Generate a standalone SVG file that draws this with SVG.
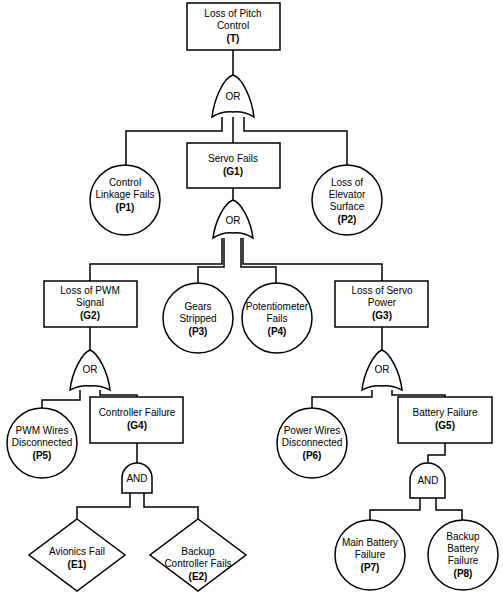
<svg xmlns="http://www.w3.org/2000/svg" width="503" height="594" viewBox="0 0 503 594">
<style>
.s{fill:#fff;stroke:#000;stroke-width:1.5}
.c{fill:none;stroke:#000;stroke-width:1.5}
text{font-family:"Liberation Sans",Arial,sans-serif;font-size:10px;text-anchor:middle;fill:#000}
.b{font-weight:bold}
</style>
<rect width="503" height="594" fill="#fff"/>
<g id="connectors">
<path class="c" d="M233 50V75M233 117V143M222 117V131H126V166M244 117V131H347V166M233 188V200"/>
<path class="c" d="M222 238V264H90V281M224 238V267H198V285M243 238V264H382V281M241 238V267H276V285"/>
<path class="c" d="M90 327V350M80 390V400H42V410M100 390V395H137V397M137 443V463M130 493V507H77V519M144 493V507H198V519"/>
<path class="c" d="M382 327V350M372 390V397H312V410M392 390V395H445V397M445 443V455H428V463M420 498V510H370V520M436 498V510H462V520"/>
</g>
<g id="T"><rect class="s" x="187" y="3" width="93" height="47"/><text x="233" y="17">Loss of Pitch</text><text x="233" y="29">Control</text><text class="b" x="233" y="42">(T)</text></g>
<g id="OR1"><path class="s" d="M233 75C243 78 252 100 254 117Q244 111 233 112Q222 111 212 117C214 100 223 78 233 75Z"/><text x="233" y="100">OR</text></g>
<g id="G1"><rect class="s" x="187" y="143" width="93" height="45"/><text x="233" y="162">Servo Fails</text><text class="b" x="233" y="175">(G1)</text></g>
<g id="P1"><circle class="s" cx="125" cy="200" r="35"/><text x="125" y="186">Control</text><text x="125" y="198">Linkage Fails</text><text class="b" x="125" y="211">(P1)</text></g>
<g id="P2"><circle class="s" cx="347" cy="200" r="35"/><text x="347" y="186">Loss of</text><text x="347" y="198">Elevator</text><text x="347" y="210">Surface</text><text class="b" x="347" y="223">(P2)</text></g>
<g id="OR2"><path class="s" d="M233 200C242 203 251 222 253 238Q243 232 233 233Q223 232 213 238C215 222 224 203 233 200Z"/><text x="233" y="224">OR</text></g>
<g id="G2"><rect class="s" x="44" y="281" width="93" height="46"/><text x="90" y="294">Loss of PWM</text><text x="90" y="306">Signal</text><text class="b" x="90" y="319">(G2)</text></g>
<g id="P3"><circle class="s" cx="198" cy="318" r="35"/><text x="198" y="310">Gears</text><text x="198" y="322">Stripped</text><text class="b" x="198" y="335">(P3)</text></g>
<g id="P4"><circle class="s" cx="277" cy="318" r="35"/><text x="277" y="310">Potentiometer</text><text x="277" y="322">Fails</text><text class="b" x="277" y="335">(P4)</text></g>
<g id="G3"><rect class="s" x="335" y="281" width="93" height="46"/><text x="382" y="294">Loss of Servo</text><text x="382" y="306">Power</text><text class="b" x="382" y="319">(G3)</text></g>
<g id="OR3"><path class="s" d="M90 350C98 353 108 372 110 390Q100 385 90 386Q80 385 70 390C72 372 82 353 90 350Z"/><text x="90" y="373">OR</text></g>
<g id="OR4"><path class="s" d="M382 350C390 353 400 372 402 390Q392 385 382 386Q372 385 362 390C364 372 374 353 382 350Z"/><text x="382" y="373">OR</text></g>
<g id="P5"><circle class="s" cx="42" cy="443" r="35"/><text x="42" y="434">PWM Wires</text><text x="42" y="446">Disconnected</text><text class="b" x="42" y="459">(P5)</text></g>
<g id="G4"><rect class="s" x="90" y="397" width="93" height="46"/><text x="137" y="416">Controller Failure</text><text class="b" x="137" y="429">(G4)</text></g>
<g id="P6"><circle class="s" cx="312" cy="443" r="35"/><text x="312" y="434">Power Wires</text><text x="312" y="446">Disconnected</text><text class="b" x="312" y="459">(P6)</text></g>
<g id="G5"><rect class="s" x="398" y="397" width="94" height="46"/><text x="445" y="416">Battery Failure</text><text class="b" x="445" y="429">(G5)</text></g>
<g id="AND1"><path class="s" d="M122 493V478A15 15 0 0 1 152 478V493Z"/><text x="137" y="482">AND</text></g>
<g id="AND2"><path class="s" d="M410 498V480A17.5 17 0 0 1 445 480V498Z"/><text x="428" y="484">AND</text></g>
<g id="E1"><path class="s" d="M77 519L125 555L77 591L29 555Z"/><text x="77" y="555">Avionics Fail</text><text class="b" x="77" y="568">(E1)</text></g>
<g id="E2"><path class="s" d="M198 519L246 555L198 591L150 555Z"/><text x="198" y="555">Backup</text><text x="198" y="567">Controller Fails</text><text class="b" x="198" y="580">(E2)</text></g>
<g id="P7"><circle class="s" cx="370" cy="555" r="35"/><text x="370" y="546">Main Battery</text><text x="370" y="558">Failure</text><text class="b" x="370" y="571">(P7)</text></g>
<g id="P8"><circle class="s" cx="463" cy="555" r="35"/><text x="463" y="540">Backup</text><text x="463" y="552">Battery</text><text x="463" y="564">Failure</text><text class="b" x="463" y="577">(P8)</text></g>
</svg>
